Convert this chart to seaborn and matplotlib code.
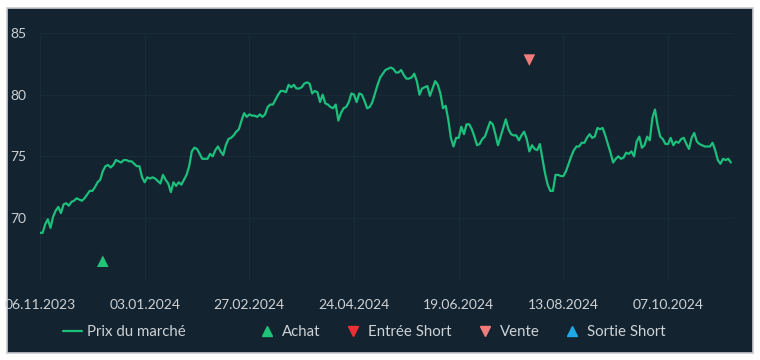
import matplotlib
matplotlib.use("Agg")
import matplotlib.pyplot as plt
from matplotlib.lines import Line2D
from matplotlib.patches import Rectangle
import seaborn as sns
import pandas as pd
import numpy as np

# ---- data ----
prices = [
    68.8, 68.8, 69.5, 69.9, 69.2, 70.1, 70.6, 70.9, 70.4, 71.1,
    71.2, 71.0, 71.3, 71.4, 71.6, 71.5, 71.4, 71.6, 71.9, 72.2,
    72.2, 72.5, 72.9, 73.1, 73.8, 74.2, 74.3, 74.1, 74.3, 74.7,
    74.6, 74.5, 74.7, 74.7, 74.6, 74.6, 74.4, 74.2, 74.2, 73.3,
    72.9, 73.3, 73.2, 73.3, 73.2, 73.0, 72.8, 73.5, 73.1, 72.8,
    72.1, 72.9, 72.6, 72.9, 72.7, 73.1, 73.5, 74.2, 75.4, 75.7,
    75.6, 75.2, 74.8, 74.8, 74.8, 75.2, 75.0, 75.5, 75.8, 75.4,
    75.1, 75.9, 76.4, 76.5, 76.7, 77.0, 77.2, 77.9, 78.5, 78.2,
    78.4, 78.3, 78.3, 78.2, 78.4, 78.2, 78.4, 79.0, 79.2, 79.2,
    79.6, 80.0, 80.3, 80.3, 80.2, 80.8, 80.6, 80.8, 80.5, 80.5,
    80.6, 80.9, 81.0, 80.9, 80.1, 80.3, 80.2, 79.4, 80.0, 79.3,
    79.2, 79.0, 78.9, 79.2, 77.9, 78.5, 78.9, 79.0, 79.4, 80.1,
    80.0, 79.4, 80.1, 80.0, 79.5, 78.9, 79.0, 79.4, 80.1, 80.8,
    81.4, 81.7, 82.0, 82.1, 82.2, 82.1, 81.8, 81.8, 82.0, 81.6,
    81.3, 81.3, 81.4, 81.7, 81.1, 80.0, 80.5, 80.6, 80.7, 79.9,
    80.5, 81.1, 80.8, 80.1, 78.9, 79.1, 78.0, 76.5, 75.8, 76.5,
    76.5, 77.4, 76.8, 77.6, 77.6, 77.2, 76.6, 75.9, 76.0, 76.4,
    76.6, 77.2, 77.8, 77.6, 76.8, 75.9, 76.6, 77.3, 78.0, 77.2,
    76.8, 76.7, 76.7, 76.3, 76.7, 77.0, 76.4, 75.4, 75.9, 75.6,
    75.5, 76.0, 74.8, 73.6, 72.7, 72.2, 72.2, 73.5, 73.5, 73.4,
    73.4, 73.8, 74.4, 75.0, 75.5, 75.8, 75.8, 76.1, 76.1, 76.5,
    76.8, 76.5, 76.6, 77.3, 77.2, 77.3, 76.7, 76.0, 75.3, 74.5,
    74.8, 75.0, 74.8, 74.9, 75.3, 75.2, 75.4, 75.0, 76.2, 76.6,
    75.7, 75.9, 76.6, 76.3, 78.1, 78.8, 77.5, 76.6, 76.4, 76.0,
    76.0, 76.5, 75.9, 76.2, 76.1, 76.4, 76.5, 76.0, 75.6, 76.5,
    76.9, 76.2, 76.0, 75.9, 75.8, 75.8, 75.8, 76.1, 75.5, 74.7,
    74.4, 74.8, 74.7, 74.8, 74.5,
]
tick_positions = [0, 40, 80, 120, 160, 200, 240]
tick_labels = ["06.11.2023", "03.01.2024", "27.02.2024", "24.04.2024",
               "19.06.2024", "13.08.2024", "07.10.2024"]
y_ticks = [70, 75, 80, 85]

buy_idx = [24]
buy_val = [66.5]
sell_idx = [187]
sell_val = [82.8]

legend_labels = ["Prix du marché", "Achat", "Entrée Short", "Vente", "Sortie Short"]

# ---- style ----
BG = "#13232f"
GRID = "#1a2b38"
TXT = "#cdd2d6"
C_LINE = "#1dbf7c"
C_BUY = "#1fc478"
C_SHORT_IN = "#ee2f36"
C_SELL = "#f27c7c"
C_SHORT_OUT = "#1fa9e6"

sns.set_style("dark")
plt.rcParams["font.family"] = ["Lato", "DejaVu Sans"]

fig = plt.figure(figsize=(7.6, 3.6), dpi=100, facecolor="white")
# dark panel with light border (behind the axes)
panel = Rectangle((7 / 760, 1 - 353 / 360), 746 / 760, 345 / 360,
                  transform=fig.transFigure, facecolor=BG,
                  edgecolor="#c8cccf", linewidth=1.2, zorder=-10)
fig.patches.append(panel)

ax = fig.add_axes([40 / 760, 1 - 279.7 / 360, (733.5 - 40) / 760, (279.7 - 33) / 360])
ax.set_zorder(1)
ax.set_facecolor(BG)

df = pd.DataFrame({"idx": np.arange(len(prices)), "prix": prices})
sns.lineplot(data=df, x="idx", y="prix", ax=ax, color=C_LINE, linewidth=1.6, zorder=3)

buy_df = pd.DataFrame({"idx": buy_idx, "val": buy_val})
sell_df = pd.DataFrame({"idx": sell_idx, "val": sell_val})
sns.scatterplot(data=buy_df, x="idx", y="val", ax=ax, marker="^", s=70,
                color=C_BUY, edgecolor="none", zorder=4)
sns.scatterplot(data=sell_df, x="idx", y="val", ax=ax, marker="v", s=70,
                color=C_SELL, edgecolor="none", zorder=4)

ax.set_xlim(0, 265)
ax.set_ylim(65, 85)
ax.set_xticks(tick_positions)
ax.set_xticklabels(tick_labels)
ax.set_yticks([65] + y_ticks)
ax.set_yticklabels([""] + [str(v) for v in y_ticks])
ax.set_xlabel("")
ax.set_ylabel("")
ax.grid(True, color=GRID, linewidth=0.8)
for s in ax.spines.values():
    s.set_visible(False)
ax.tick_params(axis="both", length=0, colors=TXT, labelsize=10)
ax.tick_params(axis="x", pad=14)
ax.tick_params(axis="y", pad=10)

# legends
FS = 10.8
h_line = [Line2D([0], [0], color=C_LINE, linewidth=1.6)]
leg1 = fig.legend(h_line, legend_labels[:1], loc="center left",
                  bbox_to_anchor=(49 / 760, 1 - 332 / 360), frameon=False,
                  labelcolor=TXT, fontsize=FS, handlelength=1.3, handletextpad=0.35)
h_mk = [
    Line2D([0], [0], marker="^", linestyle="none", color=C_BUY, markersize=7),
    Line2D([0], [0], marker="v", linestyle="none", color=C_SHORT_IN, markersize=7),
    Line2D([0], [0], marker="v", linestyle="none", color=C_SELL, markersize=7),
    Line2D([0], [0], marker="^", linestyle="none", color=C_SHORT_OUT, markersize=7),
]
leg2 = fig.legend(h_mk, legend_labels[1:], loc="center left", ncol=4,
                  bbox_to_anchor=(245.5 / 760, 1 - 332 / 360), frameon=False,
                  labelcolor=TXT, fontsize=FS, handlelength=1.0,
                  handletextpad=0.5, columnspacing=1.7)

fig.savefig("out.png", dpi=100, facecolor="white")
